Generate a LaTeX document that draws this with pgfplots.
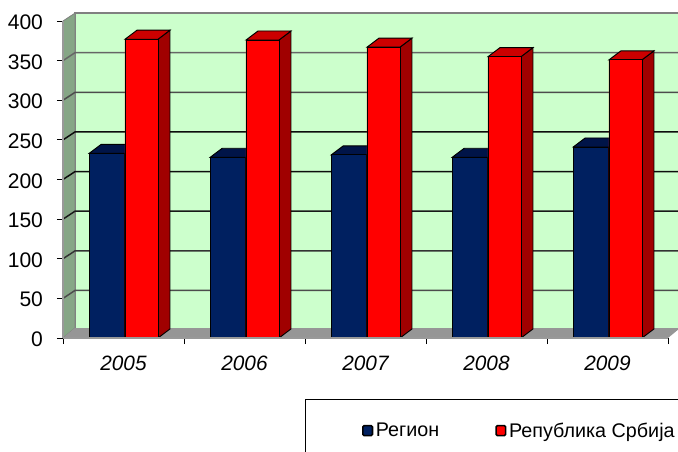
\documentclass[border=0pt]{standalone}
\usepackage{pgfplots}
\pgfplotsset{compat=1.18}
\usepackage{fontspec}
\setmainfont{Liberation Sans}
\definecolor{navy}{HTML}{002060}
\definecolor{navytop}{HTML}{001448}
\definecolor{redtop}{HTML}{CC0000}
\definecolor{redside}{HTML}{A00000}
\definecolor{wall}{HTML}{CCFFCC}
\definecolor{sidewall}{HTML}{86A686}
\definecolor{floorc}{HTML}{969696}
\newcommand\navytop[2]{\addplot[forget plot,fill=navytop,draw=black,line width=0.7pt] coordinates {({#1-0.2835},#2) ({#1+0.0124},#2) ({#1+0.1116},{#2+11.4}) ({#1-0.1843},{#2+11.4})} --cycle;}
\newcommand\redfaces[2]{%
\addplot[forget plot,fill=redside,draw=black,line width=0.7pt] coordinates {({#1+0.285},0) ({#1+0.3842},11.4) ({#1+0.3842},{#2+11.4}) ({#1+0.285},#2)} --cycle;
\addplot[forget plot,fill=redtop,draw=black,line width=0.7pt] coordinates {({#1+0.0124},#2) ({#1+0.285},#2) ({#1+0.3842},{#2+11.4}) ({#1+0.1116},{#2+11.4})} --cycle;}
\newcommand\gridl[2]{\addplot[forget plot,draw=#2,line width=1.1pt] coordinates {(-0.5,#1) (-0.4008,{#1+10}) (4.6,{#1+10})};}
\begin{document}
\begin{tikzpicture}
\path[use as bounding box] (0,0) rectangle (508.5pt,338.25pt);
\clip (0,0) rectangle (508.5pt,338.25pt);
\begin{axis}[
  at={(47.25pt,84.75pt)},anchor=south west,
  scale only axis,width=453.75pt,height=237.75pt,
  xmin=-0.5,xmax=4.5,ymin=0,ymax=400,
  clip=false,
  axis lines*=left,
  axis on top,
  axis line style={draw=gray!80,line width=0.9pt,-},
  xtick={0,1,2,3,4},
  xticklabels={2005,2006,2007,2008,2009},
  minor xtick={-0.5,0.5,1.5,2.5,3.5,4.5},
  major x tick style={draw=none},
  minor x tick style={draw=black,line width=0.6pt},
  minor tick length=4.5pt,
  ytick={0,50,100,150,200,250,300,350,400},
  y tick style={draw=black,line width=0.6pt},
  tick align=outside,
  major tick length=4.5pt,
  /pgf/number format/assume math mode=true,
  y tick label style={font=\fontsize{15.8}{18}\selectfont,xshift=-7pt,yshift=-1pt},
  x tick label style={font=\fontsize{15.6}{18}\selectfont\itshape,yshift=-5.5pt},
  legend columns=2,
  legend style={at={(0.4,-0.192)},anchor=north west,draw=black,line width=0.6pt,
    inner xsep=42.5pt,inner ysep=15.5pt,
    font=\fontsize{14.8}{17}\selectfont,
    /tikz/every even column/.append style={column sep=40pt}},
  legend cell align=left,
]
% walls
\addplot[forget plot,fill=wall,draw=none] coordinates {(-0.4008,10) (4.6,10) (4.6,410) (-0.4008,410)} --cycle;
\addplot[forget plot,draw=gray,line width=1.2pt] coordinates {(-0.4008,10) (-0.4008,410) (4.6,410)};
\addplot[forget plot,fill=sidewall,draw=gray,line width=0.6pt] coordinates {(-0.5,0) (-0.4008,12.62) (-0.4008,410) (-0.5,400)} --cycle;
\addplot[forget plot,fill=floorc,draw=none] coordinates {(-0.5,0) (-0.4008,12.62) (4.6,12.62) (4.5,0)} --cycle;
% gridlines
\gridl{50}{black!70}
\gridl{100}{black!80}
\gridl{150}{black!90}
\gridl{200}{black!95}
\gridl{250}{black!95}
\gridl{300}{black!70}
\gridl{350}{black!60}
% navy
\navytop{0}{233}
\navytop{1}{228}
\navytop{2}{231}
\navytop{3}{228}
\navytop{4}{241}
\addplot[forget plot,ybar,bar width=26.6pt,bar shift=-12.4pt,fill=navy,draw=black,line width=0.7pt] coordinates {(0,233) (1,228) (2,231) (3,228) (4,241)};
% red
\redfaces{0}{377}
\redfaces{1}{376}
\redfaces{2}{367}
\redfaces{3}{355}
\redfaces{4}{351}
\addplot[forget plot,ybar,bar width=24.75pt,bar shift=13.5pt,fill=red,draw=black,line width=0.7pt] coordinates {(0,377) (1,376) (2,367) (3,355) (4,351)};
\addlegendimage{legend image code/.code={\draw[fill=navy,draw=black,line width=1.2pt,rounded corners=1pt] (0pt,-3.6pt) rectangle (7.2pt,3.9pt);}}
\addlegendentry{Регион}
\addlegendimage{legend image code/.code={\draw[fill=red,draw=black,line width=1.2pt,rounded corners=1pt] (0pt,-3.6pt) rectangle (7.2pt,3.9pt);}}
\addlegendentry{Република Србија}
\end{axis}
\end{tikzpicture}
\end{document}
